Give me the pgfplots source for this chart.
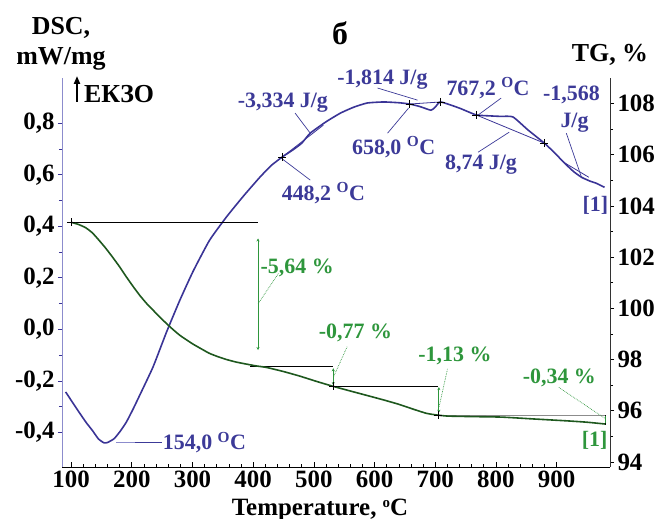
\documentclass[border=0pt]{standalone}
\usepackage{pgfplots}
\pgfplotsset{compat=1.18}
\usepackage{fontspec}
\setmainfont{Liberation Serif}
\usetikzlibrary{arrows.meta}

\definecolor{dscblue}{RGB}{58,52,150}
\definecolor{dsctext}{RGB}{60,58,152}
\definecolor{tgcurve}{RGB}{30,88,30}
\definecolor{tgtext}{RGB}{46,150,60}
\definecolor{axisblue}{RGB}{140,140,205}

\newcommand{\tickfont}{\fontsize{25}{25}\selectfont\bfseries}
\newcommand{\notefont}{\fontsize{22}{22}\selectfont\bfseries}
\newcommand{\labfont}{\fontsize{26}{26}\selectfont\bfseries}

% DSC signal, mW/mg
\pgfplotstableread{
T     dsc
91    -0.243
100   -0.275
113   -0.321
125   -0.362
135   -0.392
145   -0.425
154   -0.440
160   -0.439
171   -0.424
181   -0.395
191   -0.360
202   -0.310
213   -0.256
235   -0.146
257   -0.012
279    0.112
301    0.225
328    0.345
356    0.436
384    0.517
411    0.590
430    0.636
448.2  0.669
466    0.697
480    0.722
494    0.761
520    0.805
544    0.839
566    0.862
588    0.878
615    0.882
640    0.879
658    0.874
675    0.864
693    0.850
700    0.862
709    0.882
740    0.858
767.2  0.832
790    0.828
808    0.826
828    0.824
853    0.773
880    0.722
897    0.684
913    0.645
928    0.612
941    0.590
955    0.575
965    0.567
979    0.551
}\dsctable

% TG signal, %
\pgfplotstableread{
T    tg
100  103.36
112  103.28
124  103.15
135  102.95
146  102.66
157  102.35
168  102.01
180  101.62
191  101.23
202  100.86
213  100.51
224  100.20
235   99.93
246   99.66
257   99.41
268   99.17
279   98.95
290   98.77
301   98.60
315   98.41
328   98.24
342   98.11
356   98.00
372   97.90
389   97.82
405   97.75
422   97.69
450   97.53
477   97.35
505   97.14
532   96.95
560   96.77
590   96.58
615   96.42
640   96.25
665   96.05
685   95.90
700   95.84
720   95.79
760   95.77
809   95.75
860   95.68
919   95.60
950   95.55
980   95.48
}\tgtable

\pgfplotsset{
  frame/.style={at={(62bp,52bp)}, anchor=south west, scale only axis,
    width=548bp, height=389bp, xmin=85, xmax=988, clip=false},
}

\begin{document}
\begin{tikzpicture}

% temperature axis
\begin{axis}[frame, ymin=0, ymax=1, hide y axis, axis x line*=bottom,
  xtick={100,200,...,900},
  xticklabels={100,200,300,400,500,600,700,800,900},
  minor x tick num=4, tick align=inside,
  major tick length=5bp, minor tick length=3bp,
  xticklabel style={font=\tickfont, yshift=0bp},
  x axis line style={line width=0.8bp}, every tick/.style={black, line width=0.6bp}]
\addplot[draw=none] coordinates {(100,0.5)};
\end{axis}

% DSC axis
\begin{axis}[frame, ymin=-0.534, ymax=0.975, hide x axis, axis y line*=left,
  ytick={-0.4,-0.2,0,0.2,0.4,0.6,0.8},
  yticklabels={{-0,4},{-0,2},{0,0},{0,2},{0,4},{0,6},{0,8}},
  minor y tick num=1, tick align=outside,
  major tick length=4bp, minor tick length=3bp,
  yticklabel style={font=\tickfont},
  y axis line style={axisblue, line width=1bp},
  every tick/.style={dscblue, line width=0.6bp}]
\addplot[dscblue, line width=1.6bp, smooth, tension=0.3] table[x=T, y=dsc] {\dsctable};
% integration baselines
\draw[dscblue, line width=0.8bp] (448.2,0.669) -- (515.6,0.792);
\draw[dscblue, line width=0.8bp] (658,0.874) -- (709,0.882);
\draw[dscblue, line width=0.8bp] (767.2,0.832) -- (880,0.722);
\draw[dscblue, line width=0.8bp] (911,0.649) -- (953,0.590);
% markers
\addplot[only marks, mark=+, mark size=4bp, black, line width=0.7bp]
  coordinates {(448.2,0.669) (658,0.874) (709,0.882) (767.2,0.832) (880,0.722)};
% leaders
\draw[axisblue, line width=0.8bp] (174,-0.439) -- (205,-0.439);
\draw[dsctext, line width=0.8bp] (205,-0.439) -- (249,-0.439);
\draw[dsctext, line width=0.7bp] (444,0.668) -- (494,0.579);
\draw[dsctext, line width=0.7bp] (469,0.839) -- (494,0.761);
\draw[dsctext, line width=0.7bp] (605,0.936) -- (671,0.889);
\draw[dsctext, line width=0.7bp] (621.5,0.761) -- (656,0.858);
\draw[dsctext, line width=0.7bp] (770.5,0.831) -- (808.6,0.897);
\draw[dsctext, line width=0.7bp] (770.5,0.687) -- (822,0.765);
\draw[dsctext, line width=0.7bp] (916,0.761) -- (941,0.590);
% labels
\begin{scope}[every node/.style={font=\notefont, text=dsctext, inner sep=0pt}]
\node[anchor=west] at (251,-0.439) {154,0 \textsuperscript{O}C};
\node at (515.6,0.528) {448,2 \textsuperscript{O}C};
\node at (449,0.878) {-3,334 J/g};
\node at (613,0.967) {-1,814 J/g};
\node at (631.5,0.707) {658,0 \textsuperscript{O}C};
\node at (787,0.936) {767,2 \textsuperscript{O}C};
\node at (775.5,0.637) {8,74 J/g};
\node at (924.5,0.908) {-1,568};
\node at (929.5,0.800) {J/g};
\node at (964,0.480) {[1]};
\end{scope}
\end{axis}

% TG axis
\begin{axis}[frame, ymin=93.8, ymax=109, hide x axis, axis y line*=right,
  ytick={94,96,...,108},
  yticklabels={94,96,98,100,102,104,106,108},
  minor y tick num=1, tick align=outside,
  major tick length=4bp, minor tick length=3bp,
  yticklabel style={font=\tickfont},
  y axis line style={black!80, line width=0.8bp},
  every tick/.style={black, line width=0.6bp}]
% step construction
\draw[black, line width=0.7bp] (100,103.36) -- (408,103.36);
\draw[black, line width=0.7bp] (395,97.72) -- (532,97.72);
\draw[black, line width=0.7bp] (532,96.95) -- (705,96.95);
\draw[black!45, line width=0.9bp] (705,95.82) -- (980,95.82);
\draw[black, line width=0.7bp] (980,95.82) -- (980,95.45);
\addplot[tgcurve, line width=1.6bp, smooth, tension=0.3] table[x=T, y=tg] {\tgtable};
\addplot[only marks, mark=+, mark size=4bp, black, line width=0.7bp]
  coordinates {(100,103.36) (532,96.95) (705,95.82)};
% step heights
\begin{scope}[tgtext, line width=1bp, {Stealth[length=3bp,width=3bp]}-{Stealth[length=3bp,width=3bp]}]
\draw (408,102.73) -- (408,98.37);
\draw (532,97.66) -- (532,97.00);
\draw (706,96.92) -- (706,95.92);
\draw[-] (980,95.80) -- (980,95.50);
\end{scope}
\begin{scope}[tgtext, line width=0.7bp, densely dotted]
\draw (408.4,100.19) -- (441.6,101.36);
\draw (532.6,97.33) -- (554.8,98.50);
\draw (706.5,96.16) -- (720.4,97.65);
\draw (979,95.71) -- (903,96.92);
\end{scope}
\begin{scope}[every node/.style={font=\notefont, text=tgtext, inner sep=0pt}]
\node at (472.5,101.56) {-5,64 \%};
\node at (568.5,99.03) {-0,77 \%};
\node at (732.5,98.13) {-1,13 \%};
\node at (904.6,97.27) {-0,34 \%};
\node at (962.6,94.86) {[1]};
\end{scope}
\end{axis}

% titles and axis names
\node[anchor=base, font=\labfont] at (61bp,484bp) {DSC,};
\node[anchor=base, font=\labfont] at (61bp,454bp) {mW/mg};
\draw[-{Triangle[length=8bp,width=6bp]}, line width=2.6bp] (77bp,417bp) -- (77bp,443bp);
\node[anchor=base west, font=\labfont, inner sep=0pt] at (84bp,416bp) {ЕКЗО};
\node[anchor=base, font=\fontsize{32}{32}\selectfont\bfseries] at (340bp,474bp) {б};
\node[anchor=base, font=\labfont] at (610bp,457bp) {TG, \%};
\node[anchor=base, font=\fontsize{25}{25}\selectfont\bfseries, inner sep=0pt] at (320bp,4bp) {Temperature, \raisebox{0.3em}{\fontsize{15}{15}\selectfont o}C};

\pgfresetboundingbox
\path[use as bounding box] (0bp,0bp) rectangle (664bp,519bp);
\end{tikzpicture}
\end{document}
